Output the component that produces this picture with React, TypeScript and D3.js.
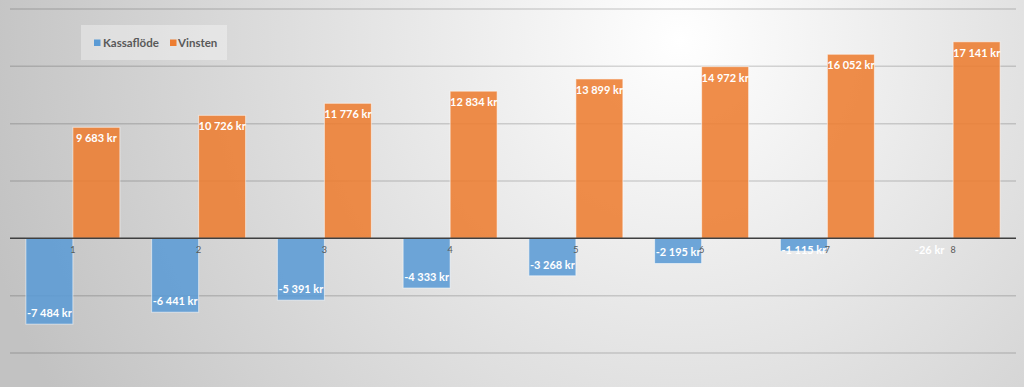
import React, { useEffect, useRef } from 'react';
import * as d3 from 'd3';

const categories = ['1', '2', '3', '4', '5', '6', '7', '8'];
const seriesNames = ['Kassaflöde', 'Vinsten'];
const kassaflode = [-7484, -6441, -5391, -4333, -3268, -2195, -1115, -26];
const vinsten = [9683, 10726, 11776, 12834, 13899, 14972, 16052, 17141];
const yTicks = [-10000, -5000, 0, 5000, 10000, 15000, 20000];
const colors = ['#5b9bd5', '#ed7d31'];

const W = 1024;
const H = 387;

const fmt = (v: number) => {
  const s = d3.format(',')(Math.abs(v)).replace(/,/g, ' ');
  return (v < 0 ? '-' : '') + s + ' kr';
};

export default function App() {
  const ref = useRef<SVGSVGElement>(null);

  useEffect(() => {
    if (!ref.current) return;
    const svg = d3.select(ref.current);
    svg.selectAll('*').remove();

    // background gradient
    const defs = svg.append('defs');
    const grad = defs.append('radialGradient')
      .attr('id', 'bg')
      .attr('gradientUnits', 'userSpaceOnUse')
      .attr('cx', 680).attr('cy', 40).attr('r', 720);
    grad.append('stop').attr('offset', '0%').attr('stop-color', '#ffffff');
    grad.append('stop').attr('offset', '100%').attr('stop-color', '#c2c2c2');
    svg.append('rect').attr('width', W).attr('height', H).attr('fill', 'url(#bg)');

    const x = d3.scaleBand<string>().domain(categories).range([10, 1016]).padding(0);
    const xs = d3.scaleBand<string>().domain(seriesNames).range([0, x.bandwidth()])
      .paddingInner(0).paddingOuter(0.338);
    const y = d3.scaleLinear().domain([-10000, 20000]).range([353, 9]);

    // gridlines
    svg.append('g')
      .selectAll('line')
      .data(yTicks.filter(t => t !== 0))
      .join('line')
      .attr('x1', 10).attr('x2', 1016)
      .attr('y1', d => y(d)).attr('y2', d => y(d))
      .attr('stroke', 'rgba(0,0,0,0.15)')
      .attr('stroke-width', 1.5);

    const series = [kassaflode, vinsten];
    series.forEach((vals, si) => {
      svg.append('g')
        .selectAll('rect')
        .data(vals)
        .join('rect')
        .attr('x', (_, i) => (x(categories[i]) || 0) + (xs(seriesNames[si]) || 0))
        .attr('width', xs.bandwidth())
        .attr('y', d => y(Math.max(0, d)))
        .attr('height', d => Math.abs(y(d) - y(0)))
        .attr('fill', colors[si])
        .attr('fill-opacity', 0.88)
        .attr('stroke', 'rgba(255,255,255,0.55)')
        .attr('stroke-width', 1);
    });

    // zero axis
    svg.append('line')
      .attr('x1', 10).attr('x2', 1016)
      .attr('y1', y(0)).attr('y2', y(0))
      .attr('stroke', '#3f3f3f')
      .attr('stroke-width', 1.5);

    // category labels
    svg.append('g')
      .selectAll('text')
      .data(categories)
      .join('text')
      .attr('x', d => (x(d) || 0) + x.bandwidth() / 2)
      .attr('y', y(0) + 15)
      .attr('text-anchor', 'middle')
      .attr('font-family', 'Lato, "Open Sans", sans-serif')
      .attr('font-size', 9)
      .attr('fill', '#595959')
      .text(d => d);

    // data labels (inside end)
    series.forEach((vals, si) => {
      svg.append('g')
        .selectAll('text')
        .data(vals)
        .join('text')
        .attr('x', (_, i) => (x(categories[i]) || 0) + (xs(seriesNames[si]) || 0) + xs.bandwidth() / 2)
        .attr('y', d => d >= 0 ? y(d) + 11 : Math.max(y(d) - 11, y(0) + 12))
        .attr('dy', '0.35em')
        .attr('text-anchor', 'middle')
        .attr('font-family', 'Lato, "Open Sans", sans-serif')
        .attr('font-weight', 'bold')
        .attr('font-size', 11)
        .attr('fill', '#ffffff')
        .text(d => fmt(d));
    });

    // legend
    const lg = svg.append('g');
    lg.append('rect')
      .attr('x', 81).attr('y', 25).attr('width', 146).attr('height', 35)
      .attr('fill', 'rgba(255,255,255,0.35)');
    const items = [
      { name: seriesNames[0], sx: 94, tx: 103 },
      { name: seriesNames[1], sx: 170, tx: 178 },
    ];
    items.forEach((it, i) => {
      lg.append('rect')
        .attr('x', it.sx).attr('y', 39.5).attr('width', 6.5).attr('height', 6.5)
        .attr('fill', colors[i]);
      lg.append('text')
        .attr('x', it.tx).attr('y', 43)
        .attr('dy', '0.35em')
        .attr('font-family', 'Lato, "Open Sans", sans-serif')
        .attr('font-weight', 'bold')
        .attr('font-size', 11.5)
        .attr('fill', '#595959')
        .text(it.name);
    });
  }, []);

  return (
    <svg
      ref={ref}
      width={W}
      height={H}
      style={{ position: 'absolute', left: 0, top: 0, display: 'block' }}
    />
  );
}
